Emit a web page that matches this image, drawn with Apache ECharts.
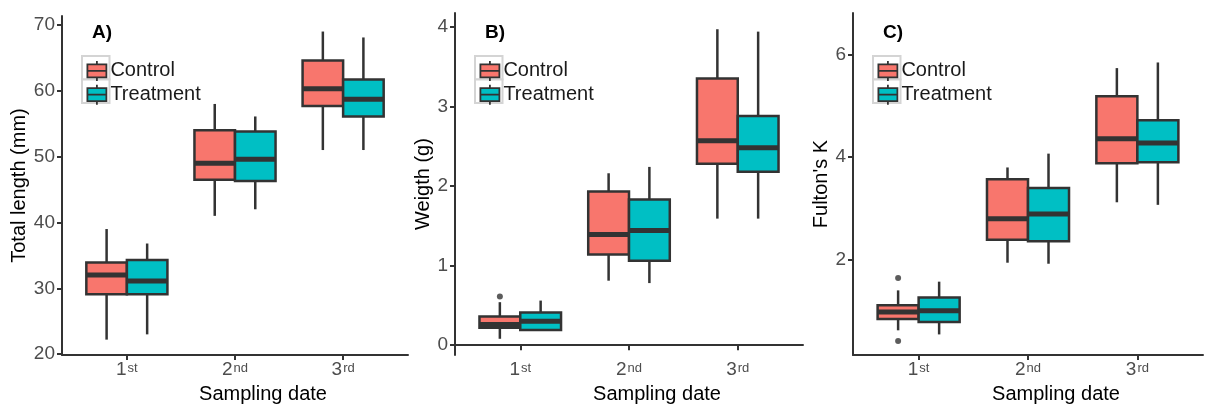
<!DOCTYPE html>
<html>
<head>
<meta charset="utf-8">
<script src="https://cdn.jsdelivr.net/npm/echarts@6/dist/echarts.min.js"></script>
<style>
  html, body { margin: 0; padding: 0; background: #fff; }
  #chart { width: 1205px; height: 409px; }
</style>
</head>
<body>
<div id="chart"></div>
<script>
// Sampling dates (tick labels: number + ordinal suffix)
const dateNumbers = ['1', '2', '3'];
const dateSuffixes = ['st', 'nd', 'rd'];
const groups = ['Control', 'Treatment'];

// Box statistics per sampling date: [lower whisker, Q1, median, Q3, upper whisker]
const lengthControl   = [[22.2, 29.1, 32.0, 33.9, 39.0], [41.0, 46.5, 49.0, 54.0, 58.0], [51.0, 57.7, 60.3, 64.6, 69.0]];
const lengthTreatment = [[23.0, 29.1, 31.1, 34.3, 36.8], [42.0, 46.3, 49.6, 53.8, 56.1], [51.0, 56.1, 58.7, 61.7, 68.1]];

const weightControl   = [[0.08, 0.22, 0.26, 0.36, 0.54], [0.81, 1.14, 1.39, 1.93, 2.16], [1.59, 2.28, 2.57, 3.35, 3.97]];
const weightTreatment = [[0.18, 0.19, 0.30, 0.41, 0.56], [0.78, 1.06, 1.44, 1.83, 2.24], [1.59, 2.18, 2.48, 2.88, 3.94]];

const fultonControl   = [[0.62, 0.84, 0.98, 1.11, 1.40], [1.94, 2.39, 2.80, 3.57, 3.80], [3.12, 3.88, 4.36, 5.19, 5.74]];
const fultonTreatment = [[0.54, 0.78, 1.00, 1.26, 1.57], [1.92, 2.36, 2.89, 3.40, 4.07], [3.07, 3.90, 4.28, 4.72, 5.85]];

// Outliers: [date index, value]
const weightControlOutliers = [[0, 0.61]];
const fultonControlOutliers = [[0, 1.64], [0, 0.41]];

// Y tick values per panel
const lengthTicks = [20, 30, 40, 50, 60, 70];
const weightTicks = [0, 1, 2, 3, 4];
const fultonTicks = [2, 4, 6];

const FONT = "'Liberation Sans', Arial, sans-serif";
const INK = '#333333';
const FILLS = ['#F8766D', '#00BFC4'];
const DODGE = 0.75;           // total width of the dodged pair, in category units
const HALF = DODGE / 4;       // half of one box

const panels = [
  { tag: 'A)', yName: 'Total length (mm)', ctrl: lengthControl, trt: lengthTreatment,
    ctrlOut: [], trtOut: [], ticks: lengthTicks,
    grid: { left: 62, top: 16, width: 346, height: 342 }, yMin: 19.85, yMax: 71.36, nameGap: 32 },
  { tag: 'B)', yName: 'Weigth (g)', ctrl: weightControl, trt: weightTreatment,
    ctrlOut: weightControlOutliers, trtOut: [], ticks: weightTicks,
    grid: { left: 455, top: 13, width: 348, height: 345 }, yMin: -0.125, yMax: 4.174, nameGap: 20 },
  { tag: 'C)', yName: "Fulton's K", ctrl: fultonControl, trt: fultonTreatment,
    ctrlOut: fultonControlOutliers, trtOut: [], ticks: fultonTicks,
    grid: { left: 853, top: 13, width: 350, height: 344 }, yMin: 0.136, yMax: 6.816, nameGap: 21 }
];

function renderBox(params, api) {
  const x = api.value(0);
  const lo = api.value(1), q1 = api.value(2), med = api.value(3), q3 = api.value(4), hi = api.value(5);
  const tl = api.coord([x - HALF, q3]);
  const br = api.coord([x + HALF, q1]);
  const pHi = api.coord([x, hi]);
  const pQ3 = api.coord([x, q3]);
  const pQ1 = api.coord([x, q1]);
  const pLo = api.coord([x, lo]);
  const mL = api.coord([x - HALF, med]);
  const mR = api.coord([x + HALF, med]);
  const lineStyle = { stroke: INK, lineWidth: 2.5 };
  return {
    type: 'group',
    children: [
      { type: 'line', shape: { x1: pHi[0], y1: pHi[1], x2: pQ3[0], y2: pQ3[1] }, style: lineStyle },
      { type: 'line', shape: { x1: pLo[0], y1: pLo[1], x2: pQ1[0], y2: pQ1[1] }, style: lineStyle },
      { type: 'rect', shape: { x: tl[0], y: tl[1], width: br[0] - tl[0], height: br[1] - tl[1] },
        style: { fill: api.visual('color'), stroke: INK, lineWidth: 2.5 } },
      { type: 'line', shape: { x1: mL[0], y1: mL[1], x2: mR[0], y2: mR[1] },
        style: { stroke: INK, lineWidth: 5 } }
    ]
  };
}

const keyIcon = 'path://M0,3.5 L19,3.5 L19,16.5 L0,16.5 Z M0,10 L19,10 M9.5,0 L9.5,3.5 M9.5,16.5 L9.5,20';

const option = {
  animation: false,
  backgroundColor: '#ffffff',
  textStyle: { fontFamily: FONT },
  title: [], legend: [], grid: [], xAxis: [], yAxis: [], series: [], graphic: []
};

panels.forEach((p, k) => {
  option.grid.push(Object.assign({ containLabel: false }, p.grid));

  option.xAxis.push({
    type: 'value', gridIndex: k, min: 0.4, max: 3.6,
    name: 'Sampling date', nameLocation: 'middle', nameGap: 22,
    nameTextStyle: { fontSize: 20, color: '#000', fontFamily: FONT, padding: [0, 0, 0, 56] },
    axisLine: { show: true, lineStyle: { color: INK, width: 2 } },
    axisTick: { show: true, length: 5, lineStyle: { color: INK, width: 2 }, customValues: [1, 2, 3] },
    axisLabel: {
      customValues: [1, 2, 3], margin: 5, color: '#4d4d4d',
      formatter: v => '{n|' + dateNumbers[v - 1] + '}{s|' + dateSuffixes[v - 1] + '}',
      rich: {
        n: { fontSize: 19, fontFamily: FONT, color: '#4d4d4d', verticalAlign: 'bottom' },
        s: { fontSize: 13, fontFamily: FONT, color: '#4d4d4d', verticalAlign: 'bottom', padding: [0, 0, 4, 1] }
      }
    },
    splitLine: { show: false }
  });

  option.yAxis.push({
    type: 'value', gridIndex: k, min: p.yMin, max: p.yMax,
    name: p.yName, nameLocation: 'middle', nameRotate: 90, nameGap: p.nameGap,
    nameTextStyle: { fontSize: 20, color: '#000', fontFamily: FONT },
    axisLine: { show: true, lineStyle: { color: INK, width: 2 } },
    axisTick: { show: true, length: 5, lineStyle: { color: INK, width: 2 }, customValues: p.ticks },
    axisLabel: { customValues: p.ticks, margin: 7, fontSize: 19, color: '#4d4d4d', fontFamily: FONT },
    splitLine: { show: false }
  });

  [p.ctrl, p.trt].forEach((stats, g) => {
    const shift = g === 0 ? -HALF : HALF;
    option.series.push({
      type: 'custom', name: groups[g], xAxisIndex: k, yAxisIndex: k,
      itemStyle: { color: FILLS[g] },
      renderItem: renderBox,
      encode: { x: 0, y: [1, 2, 3, 4, 5] },
      data: stats.map((s, i) => [i + 1 + shift].concat(s)),
      z: 2
    });
  });

  [p.ctrlOut, p.trtOut].forEach((pts, g) => {
    if (!pts.length) return;
    const shift = g === 0 ? -HALF : HALF;
    option.series.push({
      type: 'scatter', name: groups[g] + ' outliers', xAxisIndex: k, yAxisIndex: k,
      symbol: 'circle', symbolSize: 6, itemStyle: { color: INK },
      data: pts.map(o => [o[0] + 1 + shift, o[1]]), z: 3
    });
  });

  const keyLeft = p.grid.left + 24.5;
  option.title.push({
    text: p.tag, left: p.grid.left + 30, top: 23, padding: 0,
    textStyle: { fontSize: 19, fontWeight: 'bold', color: '#000', fontFamily: FONT }
  });
  option.legend.push({
    orient: 'vertical', left: keyLeft, top: 60, padding: 0,
    itemWidth: 19, itemHeight: 20, itemGap: 2,
    data: groups.map(name => ({ name, icon: keyIcon })),
    itemStyle: { borderColor: INK, borderWidth: 1.8 },
    textStyle: { fontSize: 20, color: '#1a1a1a', fontFamily: FONT, padding: [0, 0, 0, -1] }
  });
  [0, 1].forEach(j => {
    option.graphic.push({
      type: 'rect', silent: true, z: -1,
      shape: { x: keyLeft - 4.5, y: 56 + j * 23.5, width: 27.5, height: 23.5 },
      style: { fill: '#ffffff', stroke: '#d4d4d4', lineWidth: 2 }
    });
  });
});

const chart = echarts.init(document.getElementById('chart'), null, { renderer: 'canvas' });
chart.setOption(option);
</script>
</body>
</html>
